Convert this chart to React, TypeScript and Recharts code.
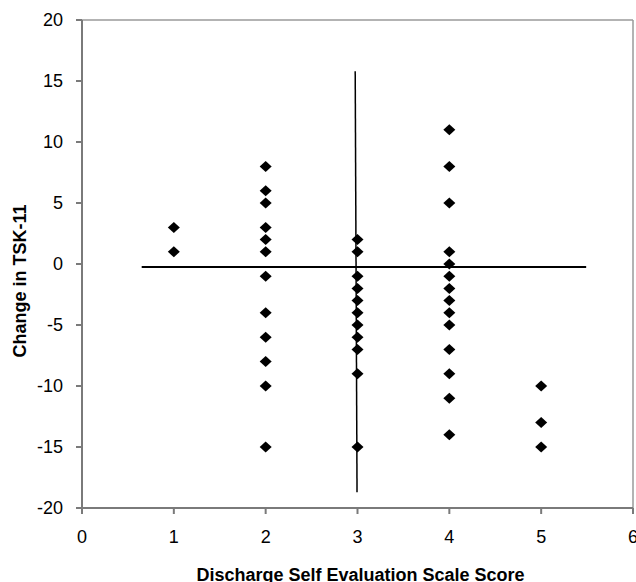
import { ReferenceLine, Scatter, ScatterChart, XAxis, YAxis, Label } from "recharts";

// 退院時の自己評価スコアごとの TSK-11 変化量
const scores = [1, 2, 3, 4, 5];
const changesAt1 = [3, 1];
const changesAt2 = [8, 6, 5, 3, 2, 1, -1, -4, -6, -8, -10, -15];
const changesAt3 = [2, 1, -1, -2, -3, -4, -5, -6, -7, -9, -15];
const changesAt4 = [11, 8, 5, 1, 0, -1, -2, -3, -4, -5, -7, -9, -11, -14];
const changesAt5 = [-10, -13, -15];

const xTicks = [0, 1, 2, 3, 4, 5, 6];
const yTicks = [20, 15, 10, 5, 0, -5, -10, -15, -20];

// 区切り線（横線と縦線）
const hLine = { x1: 0.65, x2: 5.49, y: -0.25 };
const vLine = { x1: 2.975, x2: 2.995, y1: 15.8, y2: -18.7 };

const FONT = "'Liberation Sans', Arial, sans-serif";
const AXIS_COLOR = "#7a7a7a";

const groups = [changesAt1, changesAt2, changesAt3, changesAt4, changesAt5];
const points = scores.flatMap((score, i) => groups[i].map((change) => ({ score, change })));

const Diamond = (props: any) => {
  const { cx, cy } = props;
  if (cx == null || cy == null) return null;
  const w = 6;
  const h = 5.5;
  return (
    <polygon
      points={`${cx},${cy - h} ${cx + w},${cy} ${cx},${cy + h} ${cx - w},${cy}`}
      fill="#000"
    />
  );
};

const YTitle = (props: any) => {
  const { viewBox } = props;
  const x = viewBox.x + 20;
  const y = viewBox.y + viewBox.height / 2 + 17;
  return (
    <text
      x={x}
      y={y}
      transform={`rotate(-90, ${x}, ${y})`}
      textAnchor="middle"
      dominantBaseline="central"
      fontFamily={FONT}
      fontSize={18}
      fontWeight="700"
      fill="#000"
    >
      Change in TSK-11
    </text>
  );
};

const XTitle = (props: any) => {
  const { viewBox } = props;
  return (
    <text
      x={viewBox.x + viewBox.width / 2 + 3}
      y={viewBox.y + 73}
      textAnchor="middle"
      fontFamily={FONT}
      fontSize={18}
      fontWeight="700"
      fill="#000"
    >
      Discharge Self Evaluation Scale Score
    </text>
  );
};

export default function App() {
  return (
    <div style={{ position: "absolute", left: 0, top: 0, background: "#fff" }}>
      <ScatterChart width={636} height={582} margin={{ top: 20, right: 3, bottom: 0, left: 0 }}>
        <XAxis
          type="number"
          dataKey="score"
          domain={[0, 6]}
          ticks={xTicks}
          interval={0}
          height={74}
          allowDataOverflow
          stroke={AXIS_COLOR}
          strokeWidth={2}
          tickSize={6}
          tickMargin={16}
          tick={{ fill: "#000", fontSize: 18, fontFamily: FONT }}
        >
          <Label content={<XTitle />} />
        </XAxis>
        <YAxis
          type="number"
          dataKey="change"
          domain={[-20, 20]}
          ticks={yTicks}
          interval={0}
          width={82}
          allowDataOverflow
          stroke={AXIS_COLOR}
          strokeWidth={2}
          tickSize={6}
          tickMargin={13}
          tick={{ fill: "#000", fontSize: 18, fontFamily: FONT }}
        >
          <Label content={<YTitle />} />
        </YAxis>
        <ReferenceLine y={20} stroke="#9a9a9a" strokeWidth={1.5} ifOverflow="visible" />
        <ReferenceLine x={6} stroke="#9a9a9a" strokeWidth={1.5} ifOverflow="visible" />
        <ReferenceLine
          segment={[
            { x: hLine.x1, y: hLine.y },
            { x: hLine.x2, y: hLine.y },
          ]}
          stroke="#000"
          strokeWidth={2}
        />
        <ReferenceLine
          segment={[
            { x: vLine.x1, y: vLine.y1 },
            { x: vLine.x2, y: vLine.y2 },
          ]}
          stroke="#000"
          strokeWidth={1.5}
        />
        <Scatter data={points} shape={<Diamond />} isAnimationActive={false} />
      </ScatterChart>
    </div>
  );
}
